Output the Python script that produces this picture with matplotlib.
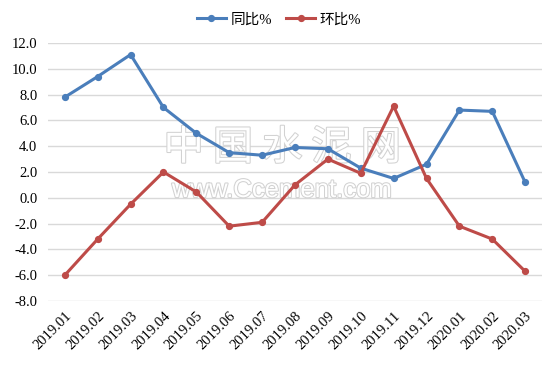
import matplotlib
matplotlib.use("Agg")
import matplotlib.pyplot as plt
import matplotlib.patheffects as pe
import numpy as np

months = ["2019.01", "2019.02", "2019.03", "2019.04", "2019.05", "2019.06", "2019.07",
          "2019.08", "2019.09", "2019.10", "2019.11", "2019.12", "2020.01", "2020.02", "2020.03"]
yoy = [7.8, 9.4, 11.1, 7.0, 5.0, 3.5, 3.3, 3.9, 3.8, 2.3, 1.5, 2.6, 6.8, 6.7, 1.2]
mom = [-6.0, -3.2, -0.5, 2.0, 0.45, -2.2, -1.9, 1.0, 3.0, 1.9, 7.1, 1.5, -2.2, -3.2, -5.7]
yticks = np.arange(-8, 13, 2)

plt.rcParams['font.serif'] = ['Liberation Serif', 'DejaVu Serif']
plt.rcParams['font.family'] = ['serif', 'Noto Sans CJK SC']

fig = plt.figure(figsize=(5.58, 3.70), dpi=100)
ax = fig.add_axes([0.0867, 0.1865, 0.8839, 0.6973])

x = np.arange(len(months))
ax.plot(x, yoy, color="#4a7ebb", lw=2.2, marker="o", ms=4.2, label="同比%", zorder=3)
ax.plot(x, mom, color="#be4b48", lw=2.2, marker="o", ms=4.2, label="环比%", zorder=3)

ax.set_xlim(-0.5, len(months) - 0.5)
ax.set_ylim(-8, 12)
ax.set_yticks(yticks)
ax.set_yticklabels([f"{v:.1f}" for v in yticks], fontsize=10.5)
ax.set_xticks(x)
ax.set_xticklabels(months, rotation=45, ha="right", va="top", rotation_mode="anchor", fontsize=10.5)
ax.tick_params(length=0)
ax.tick_params(axis="y", pad=8)
ax.tick_params(axis="x", pad=6)
ax.grid(axis="y", color="#d9d9d9", lw=1)
ax.set_axisbelow(True)
for s in ax.spines.values():
    s.set_visible(False)

# watermark
shadow = [pe.withStroke(linewidth=1.5, foreground="#d2d2d2")]
ax.text(0.474, 0.593, "中 国 水 泥 网", transform=ax.transAxes, fontsize=29, color="white",
        ha="center", va="center", family=["Noto Sans CJK SC"], path_effects=shadow, zorder=2)
ax.text(0.474, 0.43, "www.Ccement.com", transform=ax.transAxes, fontsize=18.5, color="white",
        ha="center", va="center", family=["Liberation Sans"], path_effects=shadow, zorder=2)

fig.legend(loc="upper center", bbox_to_anchor=(0.5, 1.0), ncol=2, frameon=False,
           fontsize=10.5, handlelength=2.0, columnspacing=1.0, handletextpad=0.3)

fig.savefig("out.png", dpi=100)
